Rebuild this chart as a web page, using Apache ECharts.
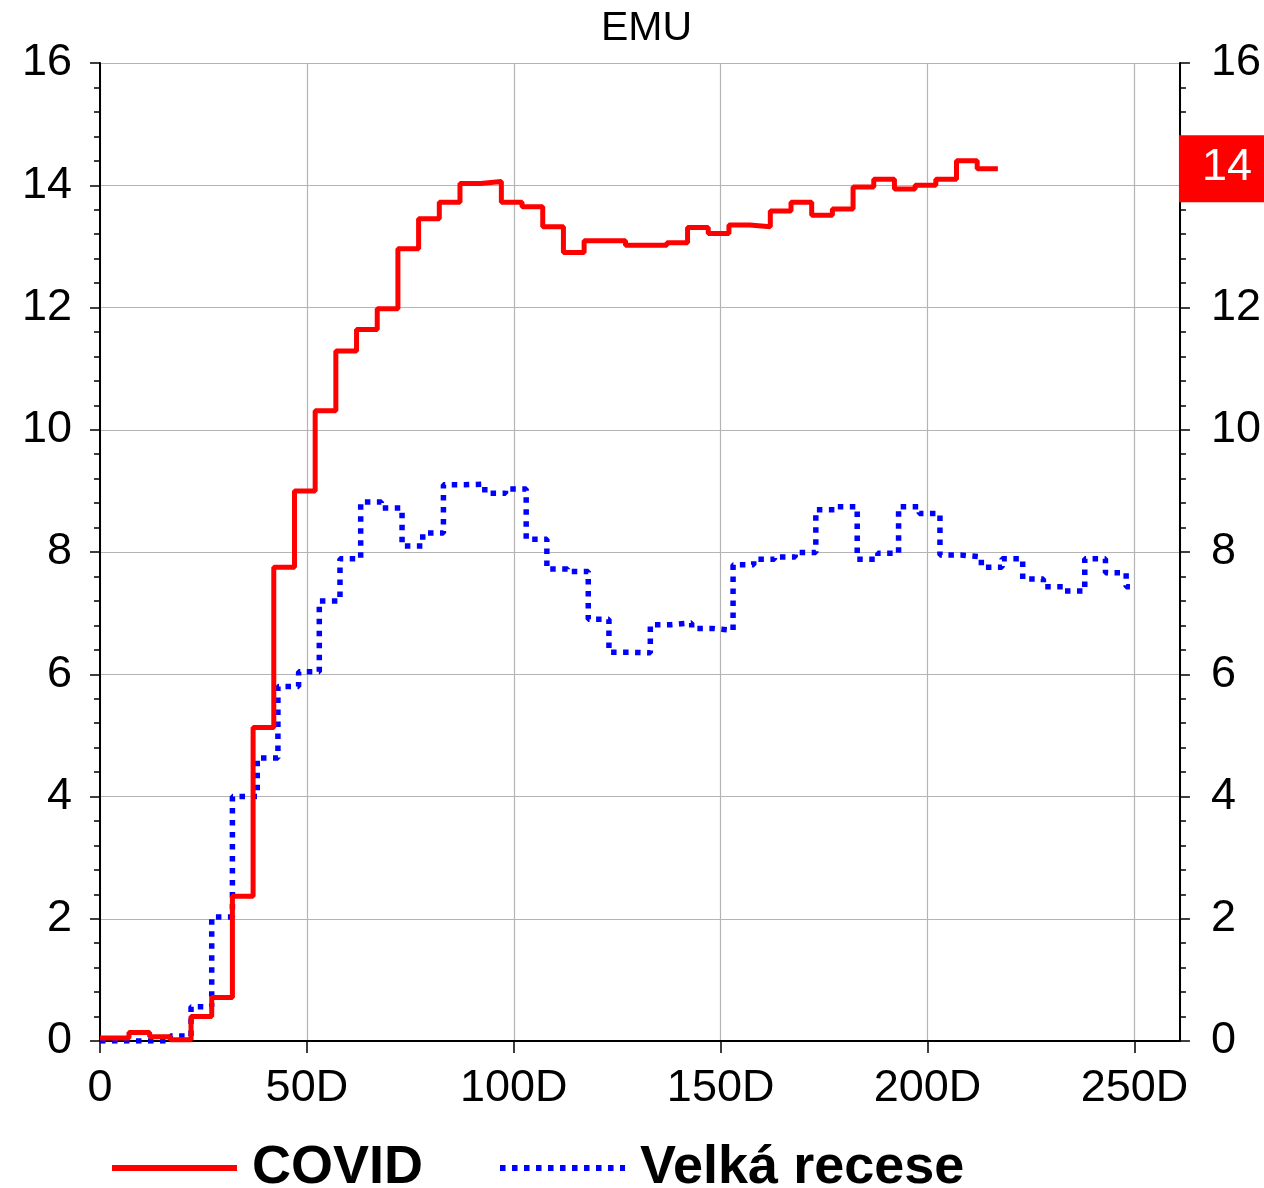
<!DOCTYPE html>
<html>
<head>
<meta charset="utf-8">
<script src="https://cdn.jsdelivr.net/npm/echarts@6/dist/echarts.min.js"></script>
<style>
html,body{margin:0;padding:0;background:#fff;}
#chart{width:1264px;height:1188px;}
</style>
</head>
<body>
<div id="chart"></div>
<script>
// Data (day offsets where each weekly value starts; step line holds value until next point)
const chartTitle = 'EMU';
const seriesNames = ['COVID', 'Velká recese'];
const covidDays = [0,7,12,17,22,27,32,37,42,47,52,57,62,67,72,77,82,87,92,97,102,107,112,117,122,127,132,137,142,147,152,157,162,167,172,177,182,187,192,197,202,207,212,217];
const covidValues = [0.05,0.14,0.07,0.02,0.40,0.71,2.37,5.13,7.75,9.00,10.31,11.29,11.64,11.98,12.96,13.45,13.72,14.03,14.06,13.72,13.65,13.32,12.90,13.09,13.09,13.02,13.02,13.06,13.31,13.21,13.35,13.32,13.58,13.72,13.51,13.61,13.97,14.10,13.94,14.00,14.10,14.40,14.27,14.27];
const recessionDays = [0,17,22,27,32,38,43,48,53,58,63,68,73,78,83,88,93,98,103,108,113,118,123,128,133,138,143,148,153,158,163,168,173,178,183,188,193,198,203,208,213,218,223,228,233,238,243,248,250];
const recessionValues = [0.00,0.08,0.56,2.03,4.00,4.63,5.80,6.04,7.20,7.89,8.82,8.72,8.10,8.31,9.10,9.11,8.96,9.03,8.21,7.72,7.68,6.90,6.36,6.35,6.81,6.84,6.75,6.72,7.79,7.88,7.92,7.99,8.69,8.74,7.88,7.98,8.74,8.63,7.95,7.92,7.75,7.89,7.56,7.43,7.36,7.89,7.66,7.43,7.43];
const xTickStep = 50;
const yTickStep = 2;

const covidData = covidDays.map((d, i) => [d, covidValues[i]]);
const recessionData = recessionDays.map((d, i) => [d, recessionValues[i]]);
const lastCovid = covidValues[covidValues.length - 1];

const FONT = 'Liberation Sans';
const chart = echarts.init(document.getElementById('chart'), null, {renderer: 'canvas'});
chart.setOption({
  animation: false,
  backgroundColor: '#fff',
  title: {
    text: chartTitle, left: 596, top: 3,
    textStyle: {fontFamily: FONT, fontSize: 41, fontWeight: 'normal', color: '#000'}
  },
  legend: {
    left: 104, top: 1136, itemWidth: 125, itemHeight: 20, itemGap: 74,
    data: seriesNames,
    itemStyle: {opacity: 0},
    lineStyle: {width: 6},
    textStyle: {fontFamily: FONT, fontSize: 54, fontWeight: 'bold', color: '#000', padding: [0, 0, 0, 10]}
  },
  grid: {left: 100, right: 83, top: 63, bottom: 147, containLabel: false},
  xAxis: {
    type: 'value', min: 0, max: 261, interval: xTickStep,
    axisLine: {show: true, lineStyle: {color: '#000', width: 2}},
    axisTick: {show: true, length: 12, lineStyle: {color: '#000', width: 1.5}},
    axisLabel: {
      show: true, margin: 25, showMaxLabel: false, color: '#000', fontFamily: FONT, fontSize: 45,
      formatter: v => v === 0 ? '0' : v + 'D'
    },
    splitLine: {show: true, lineStyle: {color: '#b4b4b4', width: 1.2}}
  },
  yAxis: [
    {
      type: 'value', min: 0, max: 16, interval: yTickStep, position: 'left',
      axisLine: {show: true, lineStyle: {color: '#000', width: 2}},
      axisTick: {show: true, length: 10, lineStyle: {color: '#000', width: 1.5}},
      minorTick: {show: true, splitNumber: 5, length: 6, lineStyle: {color: '#000', width: 1.5}},
      axisLabel: {margin: 28, color: '#000', fontFamily: FONT, fontSize: 45},
      splitLine: {show: true, lineStyle: {color: '#b4b4b4', width: 1.2}}
    },
    {
      type: 'value', min: 0, max: 16, interval: yTickStep, position: 'right',
      axisLine: {show: true, lineStyle: {color: '#000', width: 2}},
      axisTick: {show: true, length: 10, lineStyle: {color: '#000', width: 1.5}},
      minorTick: {show: true, splitNumber: 5, length: 6, lineStyle: {color: '#000', width: 1.5}},
      axisLabel: {margin: 31, color: '#000', fontFamily: FONT, fontSize: 45},
      splitLine: {show: false},
      axisPointer: {
        show: true, status: 'show', value: lastCovid, snap: false, triggerTooltip: false,
        lineStyle: {opacity: 0},
        label: {
          show: true, margin: 3, backgroundColor: '#ff0000', color: '#fff', borderRadius: 0,
          fontFamily: FONT, fontSize: 45, lineHeight: 45, padding: [10, 12, 12, 23],
          formatter: p => String(Math.round(p.value))
        }
      }
    }
  ],
  series: [
    {
      name: seriesNames[0], type: 'line', step: 'end', data: covidData, yAxisIndex: 0,
      symbol: 'none', lineStyle: {color: '#ff0000', width: 5}, itemStyle: {color: '#ff0000'}, z: 3
    },
    {
      name: seriesNames[1], type: 'line', step: 'end', data: recessionData, yAxisIndex: 0,
      symbol: 'none', lineStyle: {color: '#0000ff', width: 5.5, type: [5.5, 6.5], cap: 'butt'}, itemStyle: {color: '#0000ff'}, z: 2
    }
  ]
});
</script>
</body>
</html>
